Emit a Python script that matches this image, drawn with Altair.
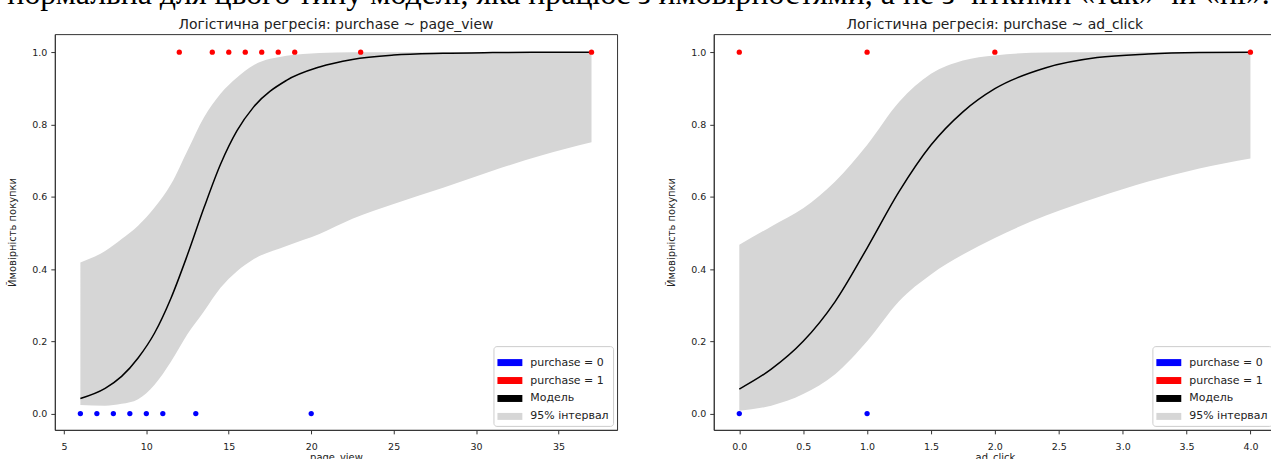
import altair as alt
import pandas as pd

doc_text = "нормальна для цього типу моделі, яка працює з ймовірностями, а не з чіткими «так» чи «ні»."
titles = ["Логістична регресія: purchase ~ page_view", "Логістична регресія: purchase ~ ad_click"]
y_title = "Ймовірність покупки"
x_names = ["page_view", "ad_click"]

# observed points
pv_x0 = [6, 7, 8, 9, 10, 11, 13, 20]
pv_x1 = [12, 14, 15, 16, 17, 18, 19, 23, 37]
ac_x0 = [0, 1]
ac_x1 = [0, 1, 2, 4]

# fitted curve and 95% band
pv_grid = [6, 7.5, 8.5, 9.5, 10.5, 11.5, 12.5, 13.5, 14.5, 15.5, 16.5, 18.5, 20.5, 22.5, 25, 28, 31, 34, 37]
pv_fit = [0.042, 0.07, 0.103, 0.154, 0.223, 0.32, 0.44, 0.57, 0.69, 0.783, 0.848, 0.922, 0.959, 0.98, 0.992, 0.997, 0.999, 1.0, 1.0]
pv_hi = [0.418, 0.45, 0.483, 0.52, 0.57, 0.635, 0.728, 0.82, 0.885, 0.93, 0.964, 0.99, 0.998, 1.0, 1.0, 1.0, 1.0, 1.0, 1.0]
pv_lo = [0.024, 0.022, 0.027, 0.04, 0.08, 0.144, 0.22, 0.283, 0.348, 0.394, 0.427, 0.464, 0.497, 0.539, 0.58, 0.625, 0.672, 0.715, 0.751]

ac_grid = [0, 0.25, 0.5, 0.75, 1.0, 1.25, 1.5, 1.75, 2.0, 2.4, 2.8, 3.2, 3.6, 4.0]
ac_fit = [0.068, 0.123, 0.2, 0.31, 0.458, 0.614, 0.743, 0.835, 0.899, 0.957, 0.985, 0.995, 0.999, 1.0]
ac_hi = [0.467, 0.518, 0.568, 0.642, 0.743, 0.862, 0.94, 0.977, 0.991, 0.999, 1.0, 1.0, 1.0, 1.0]
ac_lo = [0.008, 0.022, 0.054, 0.109, 0.2, 0.311, 0.385, 0.44, 0.486, 0.548, 0.598, 0.642, 0.678, 0.706]

legend_labels = ["purchase = 0", "purchase = 1", "Модель", "95% інтервал"]
legend_colors = ["#0000ff", "#ff0000", "#000000", "#d6d6d6"]

y_ticks = [0.0, 0.2, 0.4, 0.6, 0.8, 1.0]
pv_ticks = [5, 10, 15, 20, 25, 30, 35]
ac_ticks = [0.0, 0.5, 1.0, 1.5, 2.0, 2.5, 3.0, 3.5, 4.0]

FONT = "DejaVu Sans"


def panel(xname, x0, x1, grid, fit, lo, hi, title, xdomain, xticks, xfmt):
    pts = pd.DataFrame({
        "x": x0 + x1,
        "y": [0] * len(x0) + [1] * len(x1),
        "series": ["purchase = 0"] * len(x0) + ["purchase = 1"] * len(x1),
    })
    band = pd.DataFrame({"x": grid, "lo": lo, "hi": hi, "series": "95% інтервал"})
    line = pd.DataFrame({"x": grid, "p": fit, "series": "Модель"})
    xs = alt.Scale(domain=xdomain, nice=False, zero=False)
    ys = alt.Scale(domain=[-0.045, 1.05], nice=False, zero=False)
    xax = alt.Axis(values=xticks, format=xfmt, title=xname, grid=False, tickSize=4,
                   labelPadding=8, titlePadding=1, labelFlush=False)
    yax = alt.Axis(values=y_ticks, format=".1f", title=y_title, grid=False, tickSize=4,
                   labelPadding=4, titlePadding=14)
    color = alt.Color(
        "series:N",
        scale=alt.Scale(domain=legend_labels, range=legend_colors),
        legend=alt.Legend(
            title=None, orient="bottom-right", offset=4,
            symbolType="M-1,-0.28L1,-0.28L1,0.28L-1,0.28Z", symbolSize=625,
            symbolStrokeWidth=0, symbolOpacity=1,
            labelFont=FONT, labelFontSize=11, labelColor="#222",
            fillColor="white", strokeColor="#cccccc", cornerRadius=3,
            padding=4, rowPadding=-6, labelOffset=8,
        ),
    )
    area = alt.Chart(band).mark_area(interpolate="monotone", opacity=1).encode(
        x=alt.X("x:Q", scale=xs, axis=xax),
        y=alt.Y("lo:Q", scale=ys, axis=yax),
        y2="hi:Q",
        color=color,
    )
    ln = alt.Chart(line).mark_line(interpolate="monotone", strokeWidth=1.5).encode(
        x="x:Q", y="p:Q", color=color
    )
    pt = alt.Chart(pts).mark_circle(size=28, opacity=1).encode(
        x="x:Q", y="y:Q", color=color
    )
    return alt.layer(area, ln, pt).properties(
        width=564, height=397,
        title=alt.TitleParams(title, font=FONT, fontSize=14, fontWeight="normal",
                              color="#222", offset=2),
    )


left = panel(x_names[0], pv_x0, pv_x1, pv_grid, pv_fit, pv_lo, pv_hi, titles[0],
             [4.45, 38.55], pv_ticks, "d")
right = panel(x_names[1], ac_x0, ac_x1, ac_grid, ac_fit, ac_lo, ac_hi, titles[1],
              [-0.2, 4.2], ac_ticks, ".1f")

chart = (
    alt.hconcat(left, right, spacing=48)
    .resolve_scale(color="independent")
    .resolve_legend(color="independent")
    .properties(
        title=alt.TitleParams(doc_text, font="Liberation Serif", fontSize=32,
                              fontWeight="normal", color="black", anchor="start",
                              offset=7),
        padding={"left": 7, "top": -23.5, "right": -6, "bottom": -4.5},
    )
    .configure_view(stroke="#333", strokeWidth=1)
    .configure_axis(
        domainColor="#333", tickColor="#333", labelFont=FONT, titleFont=FONT,
        labelFontSize=9.5, titleFontSize=10, labelColor="#222", titleColor="#222",
        titleFontWeight="normal",
    )
)

chart.save("out.html", embed_options={"renderer": "svg", "actions": False})
